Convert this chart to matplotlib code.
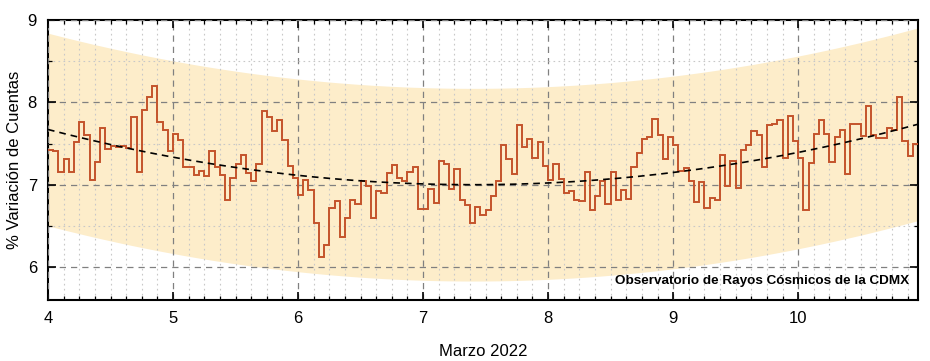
import numpy as np
import matplotlib
matplotlib.use("Agg")
import matplotlib.pyplot as plt
from matplotlib.ticker import MultipleLocator

# Conteo horario (% variación), a partir del 4 de marzo 00:00
inicio_dia = 4
variacion = [
    7.42, 7.41, 7.16, 7.31, 7.16, 7.52, 7.76, 7.60, 7.06, 7.28, 7.69, 7.43,
    7.47, 7.46, 7.47, 7.45, 7.82, 7.15, 7.91, 8.07, 8.20, 7.76, 7.67, 7.41,
    7.62, 7.54, 7.21, 7.21, 7.12, 7.17, 7.10, 7.41, 7.21, 7.12, 6.81, 7.08,
    7.25, 7.36, 7.14, 7.04, 7.25, 7.90, 7.82, 7.65, 7.78, 7.54, 7.23, 7.08,
    6.87, 7.06, 6.94, 6.54, 6.12, 6.27, 6.72, 6.80, 6.37, 6.59, 6.82, 6.77,
    7.04, 6.99, 6.59, 6.92, 6.90, 7.14, 7.24, 7.08, 7.04, 7.15, 7.21, 6.71,
    6.71, 6.95, 6.78, 7.29, 7.25, 6.95, 7.19, 6.81, 6.75, 6.53, 6.73, 6.63,
    6.69, 6.86, 7.05, 7.48, 7.31, 7.13, 7.72, 7.46, 7.56, 7.33, 7.52, 7.23,
    7.06, 7.25, 7.07, 6.90, 6.92, 6.82, 6.80, 7.16, 6.69, 6.86, 7.05, 6.76,
    7.15, 6.81, 6.93, 6.83, 7.21, 7.38, 7.56, 7.58, 7.80, 7.60, 7.31, 7.58,
    7.48, 7.17, 7.20, 7.04, 6.79, 7.03, 6.72, 6.84, 6.81, 7.36, 6.99, 7.29,
    6.96, 7.42, 7.48, 7.65, 7.60, 7.21, 7.72, 7.74, 7.79, 7.32, 7.84, 7.53,
    7.33, 6.69, 7.26, 7.62, 7.78, 7.62, 7.27, 7.58, 7.66, 7.13, 7.74, 7.74,
    7.59, 7.95, 7.60, 7.57, 7.57, 7.69, 7.66, 8.07, 7.53, 7.35, 7.50,
]

# Ajuste cuadrático (forma de vértice) y semiancho de la banda
curvatura = 0.058
dia_minimo = 7.4
valor_minimo = 7.0
ancho_banda = 1.17

variacion = np.array(variacion)
bordes = inicio_dia + np.arange(len(variacion) + 1) / 24.0

x_fit = np.linspace(bordes[0], bordes[-1], 300)
y_fit = valor_minimo + curvatura * (x_fit - dia_minimo) ** 2

plt.rcParams['font.family'] = ['Liberation Sans', 'DejaVu Sans']

fig = plt.figure(figsize=(9.3, 3.61), dpi=100)
ax = fig.add_axes([0.0516, 0.169, 0.9355, 0.7756])

ax.fill_between(x_fit, y_fit - ancho_banda, y_fit + ancho_banda,
                color='#fdedca', lw=0, zorder=1)
ax.stairs(variacion, bordes, baseline=None, color='#c4532b', lw=1.4, zorder=3)
ax.plot(x_fit, y_fit, color='black', ls=(0, (4, 3)), lw=1.2, zorder=4)

ax.set_xlim(bordes[0], bordes[-1])
ax.set_ylim(5.6, 9)
ax.xaxis.set_major_locator(MultipleLocator(1))
ax.xaxis.set_minor_locator(MultipleLocator(1 / 8))
ax.yaxis.set_major_locator(MultipleLocator(1))
ax.yaxis.set_minor_locator(MultipleLocator(0.5))

ax.grid(which='major', color='#808080', ls=(0, (5, 4)), lw=0.9, zorder=2)
ax.grid(which='minor', color='#c8c8c8', ls=(0, (1.5, 3)), lw=0.8, zorder=2)
ax.set_axisbelow(False)

ax.tick_params(which='both', direction='in', top=True, right=True,
               labelsize=12, color='black')
ax.tick_params(which='major', length=6, width=1.2, pad=8)
ax.tick_params(which='minor', length=3, width=0.9)
for s in ax.spines.values():
    s.set_linewidth(1.5)

ax.set_ylabel('% Variación de Cuentas', fontsize=12, labelpad=4)
ax.set_xlabel('Marzo 2022', fontsize=12, labelpad=13)

ax.text(0.99, 0.045, 'Observatorio de Rayos Cósmicos de la CDMX',
        transform=ax.transAxes, ha='right', va='bottom',
        fontsize=9.7, fontweight='bold', zorder=5)

fig.savefig('out.png', dpi=100)
